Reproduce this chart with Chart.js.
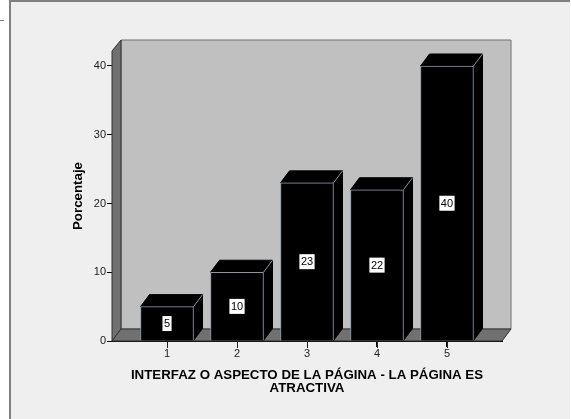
<!DOCTYPE html>
<html>
<head>
<meta charset="utf-8">
<style>
  html, body { margin: 0; padding: 0; background: #fff; overflow: hidden; }
  #page { position: relative; width: 571px; height: 419px; }
  #stub { position: absolute; left: 0; top: 20px; width: 4px; height: 1px; background: #808080; }
  #frame { position: absolute; left: 9px; top: 0; width: 561px; height: 419px; background: #efefef;
           border-top: 2px solid #808080; border-left: 2px solid #808080; box-sizing: border-box; }
  canvas { position: absolute; left: 0; top: 0; }
</style>
<script src="https://cdn.jsdelivr.net/npm/chart.js@4"></script>
</head>
<body>
<div id="page">
  <div id="stub"></div>
  <div id="frame"></div>
  <canvas id="chart" width="571" height="419"></canvas>
</div>
<script>
const categories = [1, 2, 3, 4, 5];
const percentages = [5, 10, 23, 22, 40];
const yTicks = [0, 10, 20, 30, 40];
const xTitle = ['INTERFAZ O ASPECTO DE LA PÁGINA - LA PÁGINA ES', 'ATRACTIVA'];
const yTitle = 'Porcentaje';

const depthX = 9;
const depthY = 12;
const edgeColor = '#8c96a3';

function poly(ctx, pts, fill, stroke) {
  ctx.beginPath();
  pts.forEach((p, i) => i ? ctx.lineTo(p[0], p[1]) : ctx.moveTo(p[0], p[1]));
  ctx.closePath();
  ctx.fillStyle = fill;
  ctx.fill();
  if (stroke) {
    ctx.strokeStyle = stroke;
    ctx.lineWidth = 1;
    ctx.stroke();
  }
}

// walls and floor behind the bars, plus the depth faces of each bar
const box3d = {
  id: 'box3d',
  beforeDatasetsDraw(chart) {
    const { ctx, chartArea: a } = chart;
    ctx.save();
    poly(ctx, [[a.left + depthX, a.top - depthY + 1], [a.right + depthX, a.top - depthY + 1],
               [a.right + depthX, a.bottom - depthY], [a.left + depthX, a.bottom - depthY]], '#c0c0c0', '#707070');
    poly(ctx, [[a.left, a.top], [a.left + depthX, a.top - depthY + 1],
               [a.left + depthX, a.bottom - depthY], [a.left, a.bottom]], '#707070', '#303030');
    poly(ctx, [[a.left, a.bottom], [a.left + depthX, a.bottom - depthY],
               [a.right + depthX, a.bottom - depthY], [a.right, a.bottom]], '#707070', '#303030');
    chart.getDatasetMeta(0).data.forEach(bar => {
      const l = bar.x - bar.width / 2, r = bar.x + bar.width / 2;
      poly(ctx, [[r, bar.y], [r + depthX, bar.y - depthY], [r + depthX, bar.base - depthY], [r, bar.base]], '#000', '#000');
      poly(ctx, [[l, bar.y], [l + depthX, bar.y - depthY], [r + depthX, bar.y - depthY], [r, bar.y]], '#000', '#000');
      ctx.strokeStyle = edgeColor;
      ctx.beginPath();
      ctx.moveTo(r, bar.y);
      ctx.lineTo(r + depthX, bar.y - depthY);
      ctx.stroke();
    });
    ctx.restore();
  },
  afterDatasetsDraw(chart) {
    const { ctx, chartArea: a } = chart;
    ctx.save();
    // category tick marks under the floor
    ctx.strokeStyle = '#222';
    ctx.lineWidth = 1;
    categories.forEach(c => {
      const x = Math.round(chart.scales.x.getPixelForValue(c)) + 0.5;
      ctx.beginPath();
      ctx.moveTo(x, a.bottom + 1);
      ctx.lineTo(x, a.bottom + 7);
      ctx.stroke();
    });
    ctx.font = '11px "Liberation Sans"';
    ctx.textAlign = 'center';
    ctx.textBaseline = 'middle';
    chart.getDatasetMeta(0).data.forEach((bar, i) => {
      const label = String(percentages[i]);
      const w = ctx.measureText(label).width + 3;
      const y = (bar.y + bar.base) / 2;
      ctx.fillStyle = '#fff';
      ctx.fillRect(bar.x - w / 2, y - 7.5, w, 15);
      ctx.fillStyle = '#000';
      ctx.fillText(label, bar.x, y + 0.5);
    });
    ctx.restore();
  }
};

new Chart(document.getElementById('chart'), {
  type: 'bar',
  data: {
    datasets: [{
      data: categories.map((c, i) => ({ x: c, y: percentages[i] })),
      backgroundColor: '#000',
      borderColor: edgeColor,
      borderWidth: 1,
      barThickness: 53
    }]
  },
  options: {
    responsive: false,
    animation: false,
    layout: { padding: { top: 51, right: 69, left: 0, bottom: 0 } },
    plugins: { legend: { display: false }, tooltip: { enabled: false } },
    scales: {
      x: {
        type: 'linear',
        offset: false,
        min: 0.214,
        max: 5.786,
        afterFit(scale) { scale.height = 78; },
        afterBuildTicks(scale) { scale.ticks = categories.map(c => ({ value: c })); },
        grid: { offset: false, drawOnChartArea: false, color: '#000', tickLength: 6 },
        border: { color: '#000' },
        ticks: { color: '#222', font: { family: 'Liberation Sans', size: 11 }, padding: 0, maxRotation: 0 },
        title: {
          display: true,
          text: xTitle,
          color: '#000',
          font: { family: 'Liberation Sans', size: 13.3, weight: 'bold', lineHeight: 0.98 },
          padding: { top: 0, bottom: 24 }
        }
      },
      y: {
        min: 0,
        max: 42.18,
        afterFit(scale) { scale.width = 112; },
        afterBuildTicks(scale) { scale.ticks = yTicks.map(v => ({ value: v })); },
        grid: { drawOnChartArea: false, color: '#000', tickLength: 5 },
        border: { color: '#000' },
        ticks: { color: '#222', font: { family: 'Liberation Sans', size: 11 }, padding: 1 },
        title: {
          display: true,
          text: yTitle,
          color: '#000',
          font: { family: 'Liberation Sans', size: 13.3, weight: 'bold' },
          padding: { top: 70, bottom: 0 }
        }
      }
    }
  },
  plugins: [box3d]
});
</script>
</body>
</html>
